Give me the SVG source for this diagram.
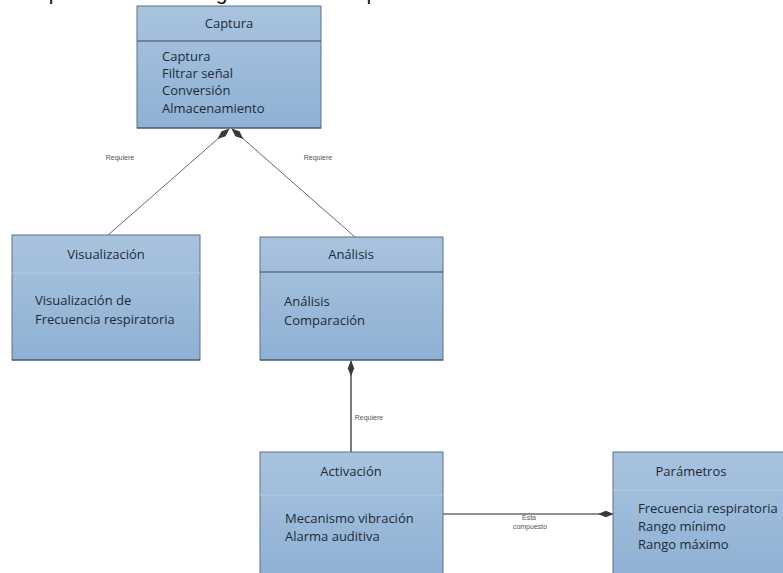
<svg xmlns="http://www.w3.org/2000/svg" width="783" height="573" viewBox="0 0 783 573">
  <defs>
    <linearGradient id="boxFill" x1="0" y1="0" x2="0" y2="1">
      <stop offset="0" stop-color="#a9c3de"/>
      <stop offset="1" stop-color="#8fb1d5"/>
    </linearGradient>
    <marker id="diamond" viewBox="0 0 20 10" refX="19" refY="5" markerWidth="16" markerHeight="8" orient="auto" markerUnits="userSpaceOnUse">
      <path d="M0,5 L10,1 L20,5 L10,9 Z" fill="#3a3a3a"/>
    </marker>
    <style>
      .box { fill: url(#boxFill); stroke: #5d7186; stroke-width: 1; }
      .sep { stroke: #3f4d5c; stroke-width: 1.2; }
      .sepSoft { stroke: #b7cbe0; stroke-width: 1; }
      .title { font-family: "Open Sans", "Liberation Sans", sans-serif; font-size: 13px; fill: #1e2b38; text-anchor: middle; }
      .item { font-family: "Open Sans", "Liberation Sans", sans-serif; font-size: 13px; fill: #1e2b38; }
      .conn { stroke: #555; stroke-width: 0.9; fill: none; }
      .connDark { stroke: #222; stroke-width: 1.2; fill: none; }
      .lbl { font-family: "Liberation Sans", sans-serif; font-size: 7px; fill: #555; text-anchor: middle; }
      .caption { font-family: "Liberation Sans", sans-serif; font-size: 21px; fill: #111; }
    </style>
  </defs>

  <rect width="783" height="573" fill="#ffffff"/>

  <!-- caption line above, running off the top edge -->
  <text class="caption" x="8" y="0">ada proceso en un diagrama de concepto</text>

  <g id="connectors">
    <line class="conn" x1="107" y1="236" x2="229" y2="129" marker-end="url(#diamond)"/>
    <line class="conn" x1="355" y1="237" x2="232" y2="129" marker-end="url(#diamond)"/>
    <line class="connDark" x1="351" y1="452" x2="351" y2="361" marker-end="url(#diamond)"/>
    <line class="connDark" x1="443" y1="514" x2="613" y2="514" marker-end="url(#diamond)"/>
    <text class="lbl" x="120" y="160">Requiere</text>
    <text class="lbl" x="318" y="160">Requiere</text>
    <text class="lbl" x="369" y="420">Requiere</text>
    <text class="lbl" x="529" y="520">Esta</text>
    <text class="lbl" x="530" y="529">compuesto</text>
  </g>

  <g id="captura">
    <rect class="box" x="137" y="6" width="184" height="122"/>
    <line class="sep" x1="137" y1="41" x2="321" y2="41"/>
    <line class="sep" x1="137" y1="128" x2="321" y2="128"/>
    <text class="title" x="229" y="28">Captura</text>
    <text class="item" x="162" y="61">Captura</text>
    <text class="item" x="162" y="78">Filtrar señal</text>
    <text class="item" x="162" y="95">Conversión</text>
    <text class="item" x="162" y="113">Almacenamiento</text>
  </g>

  <g id="visualizacion">
    <rect class="box" x="12" y="235" width="188" height="125"/>
    <line class="sepSoft" x1="12" y1="273" x2="200" y2="273"/>
    <line class="sep" x1="12" y1="360" x2="200" y2="360"/>
    <text class="title" x="106" y="259">Visualización</text>
    <text class="item" x="35" y="305">Visualización de</text>
    <text class="item" x="35" y="324">Frecuencia respiratoria</text>
  </g>

  <g id="analisis">
    <rect class="box" x="260" y="237" width="183" height="123"/>
    <line class="sep" x1="260" y1="272" x2="443" y2="272"/>
    <line class="sep" x1="260" y1="360" x2="443" y2="360"/>
    <text class="title" x="351" y="259">Análisis</text>
    <text class="item" x="284" y="306">Análisis</text>
    <text class="item" x="284" y="325">Comparación</text>
  </g>

  <g id="activacion">
    <rect class="box" x="260" y="452" width="183" height="125"/>
    <line class="sepSoft" x1="260" y1="495" x2="443" y2="495"/>
    <text class="title" x="351" y="476">Activación</text>
    <text class="item" x="285" y="523">Mecanismo vibración</text>
    <text class="item" x="285" y="541">Alarma auditiva</text>
  </g>

  <g id="parametros">
    <rect class="box" x="613" y="452" width="175" height="125"/>
    <line class="sepSoft" x1="613" y1="490" x2="788" y2="490"/>
    <text class="title" x="691" y="476">Parámetros</text>
    <text class="item" x="638" y="513">Frecuencia respiratoria</text>
    <text class="item" x="638" y="531">Rango mínimo</text>
    <text class="item" x="638" y="549">Rango máximo</text>
  </g>
</svg>
